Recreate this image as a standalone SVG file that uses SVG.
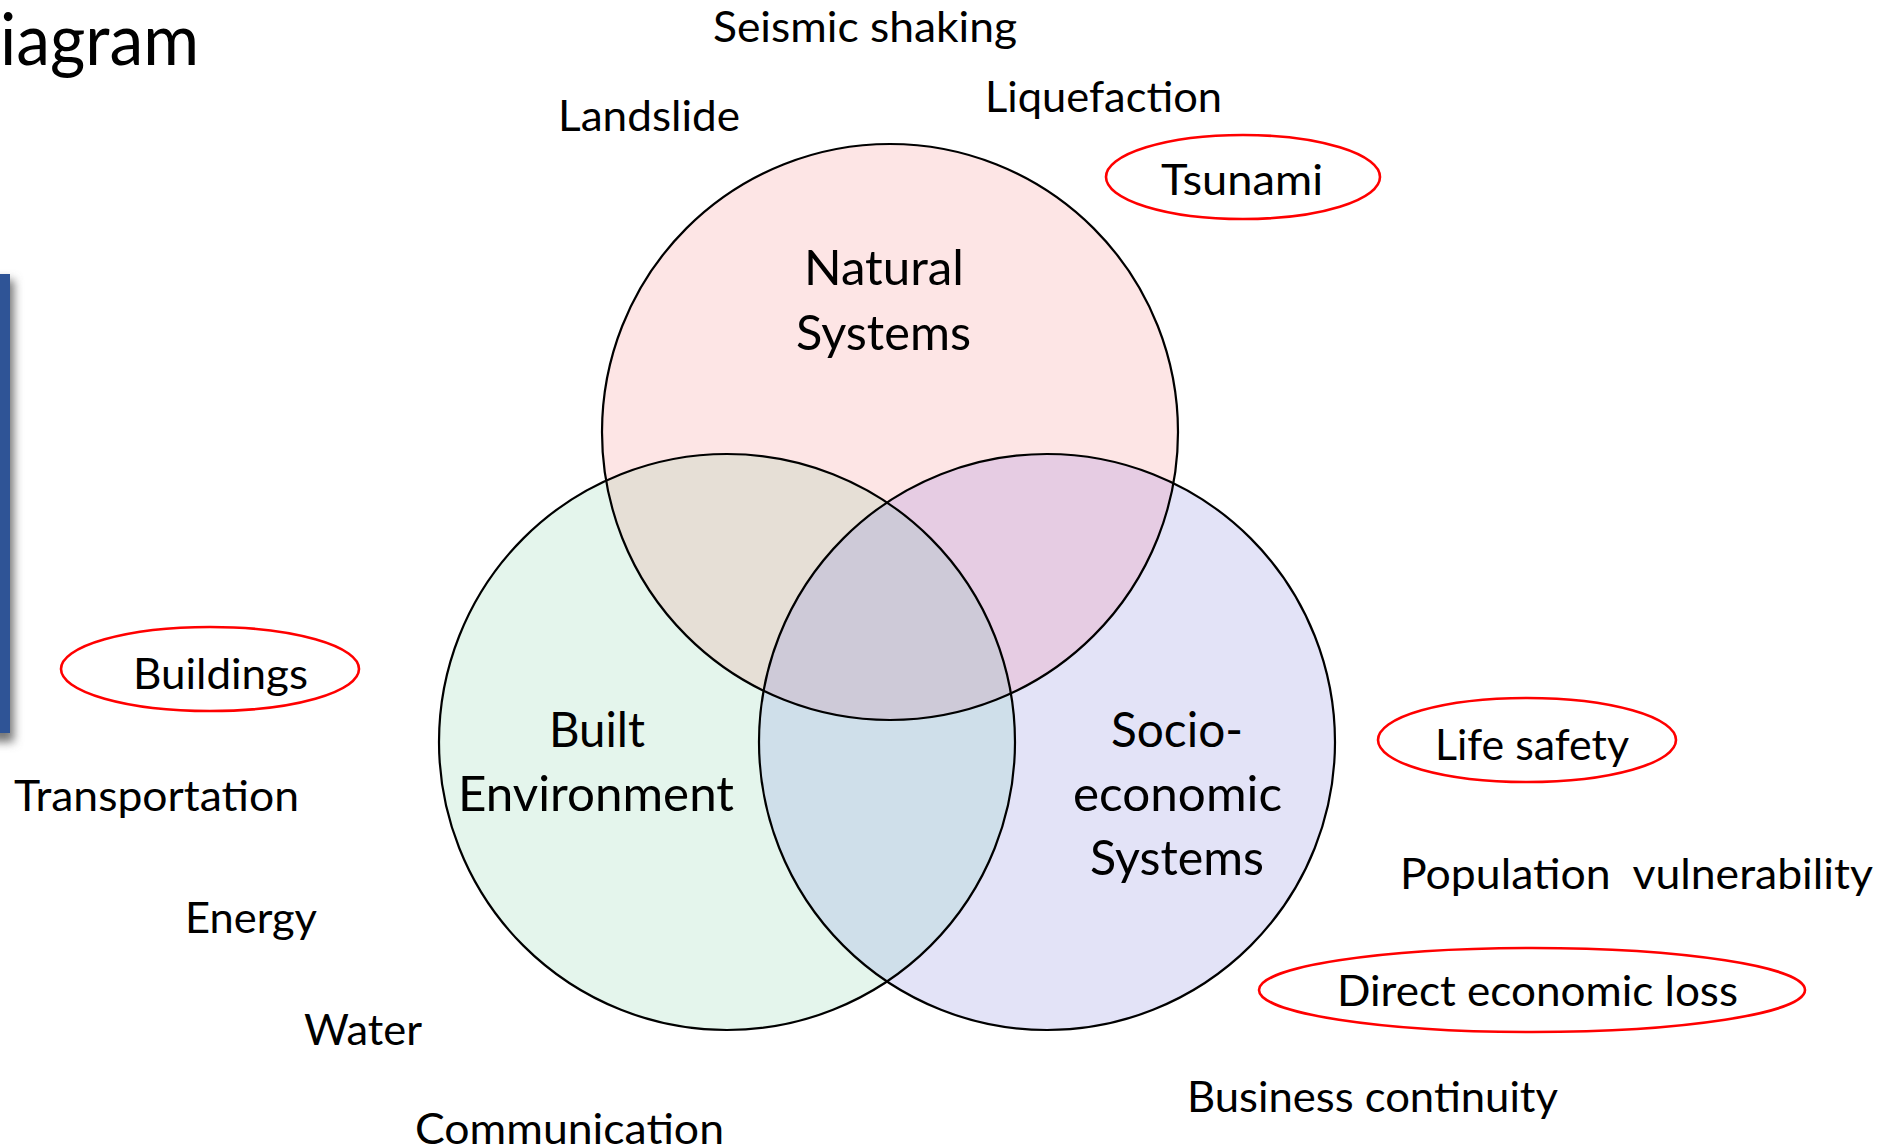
<svg xmlns="http://www.w3.org/2000/svg" width="1891" height="1147" viewBox="0 0 1891 1147">
<style>
text{font-family:Lato,"Open Sans","Liberation Sans",sans-serif;fill:#000;white-space:pre}
.lbl{font-size:43px}
.big{font-size:48px}
.ttl{font-size:71px}
.ring{fill:none;stroke:#000;stroke-width:2.2}
.oval{fill:none;stroke:#f00;stroke-width:2.6}
</style>
<defs>
<circle id="cA" cx="890" cy="432" r="288"/>
<circle id="cB" cx="727" cy="742" r="288"/>
<circle id="cC" cx="1047" cy="742" r="288"/>
<clipPath id="clipB"><use href="#cB"/></clipPath>
<clipPath id="clipC"><use href="#cC"/></clipPath>
<filter id="shadow" x="-200%" y="-10%" width="500%" height="130%">
<feGaussianBlur stdDeviation="5"/>
</filter>
</defs>
<rect width="1891" height="1147" fill="#fff"/>
<g id="title"><text class="ttl" x="0" y="65" textLength="199" lengthAdjust="spacingAndGlyphs">iagram</text></g>
<g id="sidebar">
<rect x="-10" y="280" width="24" height="462" fill="#777" filter="url(#shadow)"/>
<rect x="-5" y="274" width="15" height="459" fill="#2f5496"/>
</g>
<g id="venn">
<use href="#cA" fill="#fde5e5"/>
<use href="#cB" fill="#e4f5ec"/>
<use href="#cC" fill="#e3e3f7"/>
<use href="#cA" fill="#e6dfd6" clip-path="url(#clipB)"/>
<use href="#cA" fill="#e6cce3" clip-path="url(#clipC)"/>
<use href="#cB" fill="#cfdfea" clip-path="url(#clipC)"/>
<g clip-path="url(#clipC)"><use href="#cA" fill="#cecad8" clip-path="url(#clipB)"/></g>
<use href="#cA" class="ring"/>
<use href="#cB" class="ring"/>
<use href="#cC" class="ring"/>
</g>
<g id="natural-systems"><text class="big" x="804" y="285" textLength="160" lengthAdjust="spacingAndGlyphs">Natural</text><text class="big" x="796" y="350" textLength="175" lengthAdjust="spacingAndGlyphs">Systems</text></g>
<g id="built-environment"><text class="big" x="549" y="747" textLength="96" lengthAdjust="spacingAndGlyphs">Built</text><text class="big" x="458" y="811" textLength="276" lengthAdjust="spacingAndGlyphs">Environment</text></g>
<g id="socio-economic-systems"><text class="big" x="1111" y="747" textLength="132" lengthAdjust="spacingAndGlyphs">Socio-</text><text class="big" x="1073" y="811" textLength="209" lengthAdjust="spacingAndGlyphs">economic</text><text class="big" x="1090" y="875" textLength="174" lengthAdjust="spacingAndGlyphs">Systems</text></g>
<g id="seismic-shaking"><text class="lbl" x="713" y="42" textLength="304" lengthAdjust="spacingAndGlyphs">Seismic shaking</text></g>
<g id="landslide"><text class="lbl" x="558" y="131" textLength="182" lengthAdjust="spacingAndGlyphs">Landslide</text></g>
<g id="liquefaction"><text class="lbl" x="985" y="112" textLength="237" lengthAdjust="spacingAndGlyphs">Liquefaction</text></g>
<g id="tsunami"><ellipse class="oval" cx="1243" cy="177" rx="137" ry="42"/><text class="lbl" x="1161" y="195" textLength="162" lengthAdjust="spacingAndGlyphs">Tsunami</text></g>
<g id="buildings"><ellipse class="oval" cx="210" cy="669" rx="149" ry="42"/><text class="lbl" x="133" y="689" textLength="175" lengthAdjust="spacingAndGlyphs">Buildings</text></g>
<g id="transportation"><text class="lbl" x="14" y="811" textLength="285" lengthAdjust="spacingAndGlyphs">Transportation</text></g>
<g id="energy"><text class="lbl" x="185" y="933" textLength="132" lengthAdjust="spacingAndGlyphs">Energy</text></g>
<g id="water"><text class="lbl" x="304" y="1045" textLength="118" lengthAdjust="spacingAndGlyphs">Water</text></g>
<g id="communication"><text class="lbl" x="415" y="1144" textLength="309" lengthAdjust="spacingAndGlyphs">Communication</text></g>
<g id="life-safety"><ellipse class="oval" cx="1527" cy="740" rx="149" ry="42"/><text class="lbl" x="1435" y="760" textLength="194" lengthAdjust="spacingAndGlyphs">Life safety</text></g>
<g id="population-vulnerability"><text class="lbl" x="1400" y="889" textLength="473" lengthAdjust="spacingAndGlyphs">Population  vulnerability</text></g>
<g id="direct-economic-loss"><ellipse class="oval" cx="1532" cy="990" rx="273" ry="42"/><text class="lbl" x="1337" y="1006" textLength="401" lengthAdjust="spacingAndGlyphs">Direct economic loss</text></g>
<g id="business-continuity"><text class="lbl" x="1187" y="1112" textLength="371" lengthAdjust="spacingAndGlyphs">Business continuity</text></g>
<g id="connectors"></g>
</svg>
